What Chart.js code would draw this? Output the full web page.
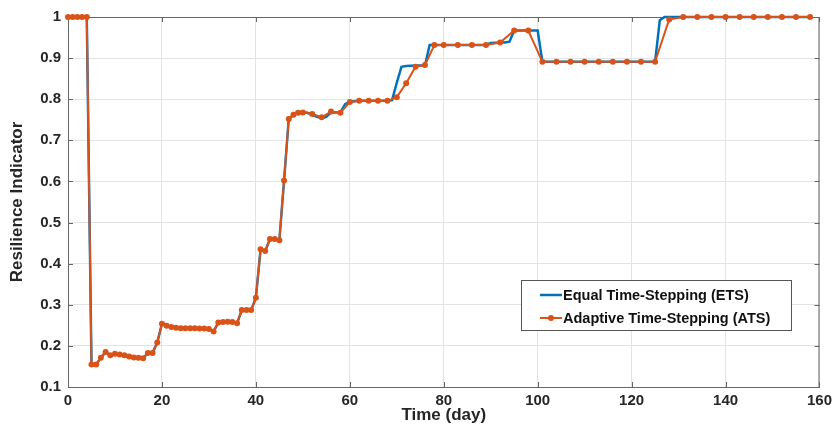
<!DOCTYPE html>
<html>
<head>
<meta charset="utf-8">
<script src="https://cdn.jsdelivr.net/npm/chart.js@4"></script>
<style>
  html, body { margin: 0; padding: 0; background: #fff; }
</style>
</head>
<body>
<canvas id="chart" width="837" height="434"></canvas>
<script>
// ATS: adaptive steps
const atsDays = [0, 1, 2, 3, 4, 5, 6, 7, 8, 9, 10, 11, 12, 13, 14, 15, 16, 17, 18, 19, 20,
  21, 22, 23, 24, 25, 26, 27, 28, 29, 30, 31, 32, 33, 34, 35, 36, 37, 38, 39, 40,
  41, 42, 43, 44, 45, 46, 47, 48, 49, 50, 52, 54, 56, 58, 60, 62, 64, 66, 68, 70,
  72, 74, 76, 78, 80, 83, 86, 89, 92, 95, 98, 101, 104, 107, 110, 113, 116, 119, 122, 125,
  128, 131, 134, 137, 140, 143, 146, 149, 152, 155, 158];
const atsValues = [1, 1, 1, 1, 1, 0.155, 0.155, 0.171, 0.185, 0.177, 0.181, 0.179, 0.177, 0.174, 0.172, 0.171, 0.170, 0.183, 0.183, 0.208, 0.254,
  0.249, 0.246, 0.244, 0.243, 0.243, 0.243, 0.243, 0.242, 0.242, 0.241, 0.235, 0.257, 0.258, 0.259, 0.258, 0.255, 0.287, 0.287, 0.287, 0.317,
  0.435, 0.431, 0.460, 0.460, 0.457, 0.602, 0.752, 0.762, 0.767, 0.768, 0.764, 0.756, 0.770, 0.767, 0.793, 0.796, 0.796, 0.796, 0.796, 0.805,
  0.839, 0.879, 0.883, 0.932, 0.932, 0.932, 0.932, 0.932, 0.938, 0.967, 0.967, 0.891, 0.891, 0.891, 0.891, 0.891, 0.891, 0.891, 0.891, 0.891,
  0.994, 1, 1, 1, 1, 1, 1, 1, 1, 1, 1];

// ETS: blue line, same as ATS early on, breakpoints after day 50
const etsDays = [0, 1, 2, 3, 4, 5, 6, 7, 8, 9, 10, 11, 12, 13, 14, 15, 16, 17, 18, 19, 20,
  21, 22, 23, 24, 25, 26, 27, 28, 29, 30, 31, 32, 33, 34, 35, 36, 37, 38, 39, 40,
  41, 42, 43, 44, 45, 46, 47, 48, 49, 50, 51, 52, 53, 54, 55, 56, 57, 58, 59, 60,
  62, 64, 66, 68, 69, 70, 71, 72, 74, 76, 77, 80, 85, 89, 90, 92, 93, 94, 95, 98, 100, 101,
  110, 120, 125, 126, 127, 130, 140, 150, 158];
const etsValues = [1, 1, 1, 1, 1, 0.155, 0.155, 0.171, 0.185, 0.177, 0.181, 0.179, 0.177, 0.174, 0.172, 0.171, 0.170, 0.183, 0.183, 0.208, 0.254,
  0.249, 0.246, 0.244, 0.243, 0.243, 0.243, 0.243, 0.242, 0.242, 0.241, 0.235, 0.257, 0.258, 0.259, 0.258, 0.255, 0.287, 0.287, 0.287, 0.317,
  0.435, 0.431, 0.460, 0.460, 0.457, 0.602, 0.752, 0.762, 0.767, 0.768, 0.767, 0.762, 0.757, 0.754, 0.757, 0.768, 0.768, 0.768, 0.788, 0.794,
  0.796, 0.796, 0.796, 0.796, 0.798, 0.840, 0.879, 0.881, 0.882, 0.882, 0.932, 0.932, 0.932, 0.932, 0.937, 0.938, 0.938, 0.940, 0.967, 0.967, 0.967, 0.891,
  0.891, 0.891, 0.891, 0.992, 1, 1, 1, 1, 1];

const xTicks = [0, 20, 40, 60, 80, 100, 120, 140, 160];
const yTicks = [0.1, 0.2, 0.3, 0.4, 0.5, 0.6, 0.7, 0.8, 0.9, 1];

const FONT = '"Liberation Sans", Arial, Helvetica, sans-serif';
const axisColor = '#666666';
const textColor = '#262626';

function toPoints(xs, ys) {
  return xs.map((x, i) => ({ x: x, y: ys[i] }));
}

// top/right box lines and inward tick marks like the matlab axes
const boxFrame = {
  id: 'boxFrame',
  beforeDatasetsDraw(chart) {
    const { ctx, chartArea: a, scales } = chart;
    const len = 5;
    ctx.save();
    ctx.strokeStyle = axisColor;
    ctx.lineWidth = 1;
    ctx.beginPath();
    ctx.moveTo(a.left, a.top + 0.5);
    ctx.lineTo(a.right, a.top + 0.5);
    ctx.moveTo(a.right - 0.5, a.top);
    ctx.lineTo(a.right - 0.5, a.bottom);
    xTicks.forEach((v) => {
      const px = Math.round(scales.x.getPixelForValue(v)) + 0.5;
      ctx.moveTo(px, a.bottom);
      ctx.lineTo(px, a.bottom - len);
      ctx.moveTo(px, a.top);
      ctx.lineTo(px, a.top + len);
    });
    yTicks.forEach((v) => {
      const py = Math.round(scales.y.getPixelForValue(v)) + 0.5;
      ctx.moveTo(a.left, py);
      ctx.lineTo(a.left + len, py);
      ctx.moveTo(a.right, py);
      ctx.lineTo(a.right - len, py);
    });
    ctx.stroke();
    ctx.restore();
  }
};

const legendBox = {
  id: 'legendBox',
  afterDraw(chart) {
    const { ctx, chartArea: a } = chart;
    const w = 270, h = 50;
    const x0 = Math.round(a.right - 28 - w);
    const y0 = Math.round(a.bottom - 57 - h);
    ctx.save();
    ctx.fillStyle = '#ffffff';
    ctx.fillRect(x0, y0, w, h);
    ctx.strokeStyle = '#555555';
    ctx.lineWidth = 1;
    ctx.strokeRect(x0 + 0.5, y0 + 0.5, w, h);
    chart.data.datasets.forEach((ds, i) => {
      const cy = y0 + 15 + i * 23;
      ctx.strokeStyle = ds.borderColor;
      ctx.lineWidth = ds.borderWidth;
      ctx.beginPath();
      ctx.moveTo(x0 + 19, cy);
      ctx.lineTo(x0 + 41, cy);
      ctx.stroke();
      if (ds.pointRadius) {
        ctx.fillStyle = ds.borderColor;
        ctx.beginPath();
        ctx.arc(x0 + 30, cy, ds.pointRadius, 0, Math.PI * 2);
        ctx.fill();
      }
      ctx.fillStyle = '#111111';
      ctx.font = 'bold 14.5px ' + FONT;
      ctx.textBaseline = 'middle';
      ctx.fillText(ds.label, x0 + 42, cy + 1);
    });
    ctx.restore();
  }
};

new Chart(document.getElementById('chart'), {
  type: 'line',
  data: {
    datasets: [
      {
        label: 'Equal Time-Stepping (ETS)',
        data: toPoints(etsDays, etsValues),
        borderColor: '#0072BD',
        backgroundColor: '#0072BD',
        borderWidth: 2.5,
        pointRadius: 0,
        tension: 0,
        order: 2,
        clip: 6,
      }, {
        label: 'Adaptive Time-Stepping (ATS)',
        data: toPoints(atsDays, atsValues),
        borderColor: '#D95319',
        backgroundColor: '#D95319',
        borderWidth: 2,
        pointRadius: 3,
        pointBorderWidth: 0,
        tension: 0,
        order: 1,
        clip: 6,
      }
    ]
  },
  options: {
    responsive: false,
    animation: false,
    devicePixelRatio: 1,
    layout: { padding: { top: 17, right: 16, left: 0, bottom: 0 } },
    plugins: {
      legend: { display: false },
      tooltip: { enabled: false },
    },
    scales: {
      x: {
        type: 'linear',
        min: 0,
        max: 160,
        afterBuildTicks: (s) => { s.ticks = xTicks.map((v) => ({ value: v })); },
        afterFit: (s) => { s.height = 47; },
        ticks: {
          color: textColor,
          font: { family: FONT, size: 15, weight: 'bold' },
          padding: 5,
          maxRotation: 0,
        },
        grid: { color: '#e3e3e3', drawTicks: false },
        border: { color: axisColor },
        title: {
          display: true,
          text: 'Time (day)',
          color: textColor,
          font: { family: FONT, size: 17, weight: 'bold' },
          padding: { top: 0, bottom: 8 },
        },
      },
      y: {
        min: 0.1,
        max: 1,
        afterBuildTicks: (s) => { s.ticks = yTicks.map((v) => ({ value: v })); },
        afterFit: (s) => { s.width = 68; },
        ticks: {
          color: textColor,
          font: { family: FONT, size: 15, weight: 'bold' },
          padding: 7,
          callback: (v) => String(+v.toFixed(1)),
        },
        grid: { color: '#e3e3e3', drawTicks: false },
        border: { color: axisColor },
        title: {
          display: true,
          text: 'Resilience Indicator',
          color: textColor,
          font: { family: FONT, size: 17, weight: 'bold' },
          padding: { top: 7, bottom: 0 },
        },
      }
    }
  },
  plugins: [boxFrame, legendBox]
});
</script>
</body>
</html>
